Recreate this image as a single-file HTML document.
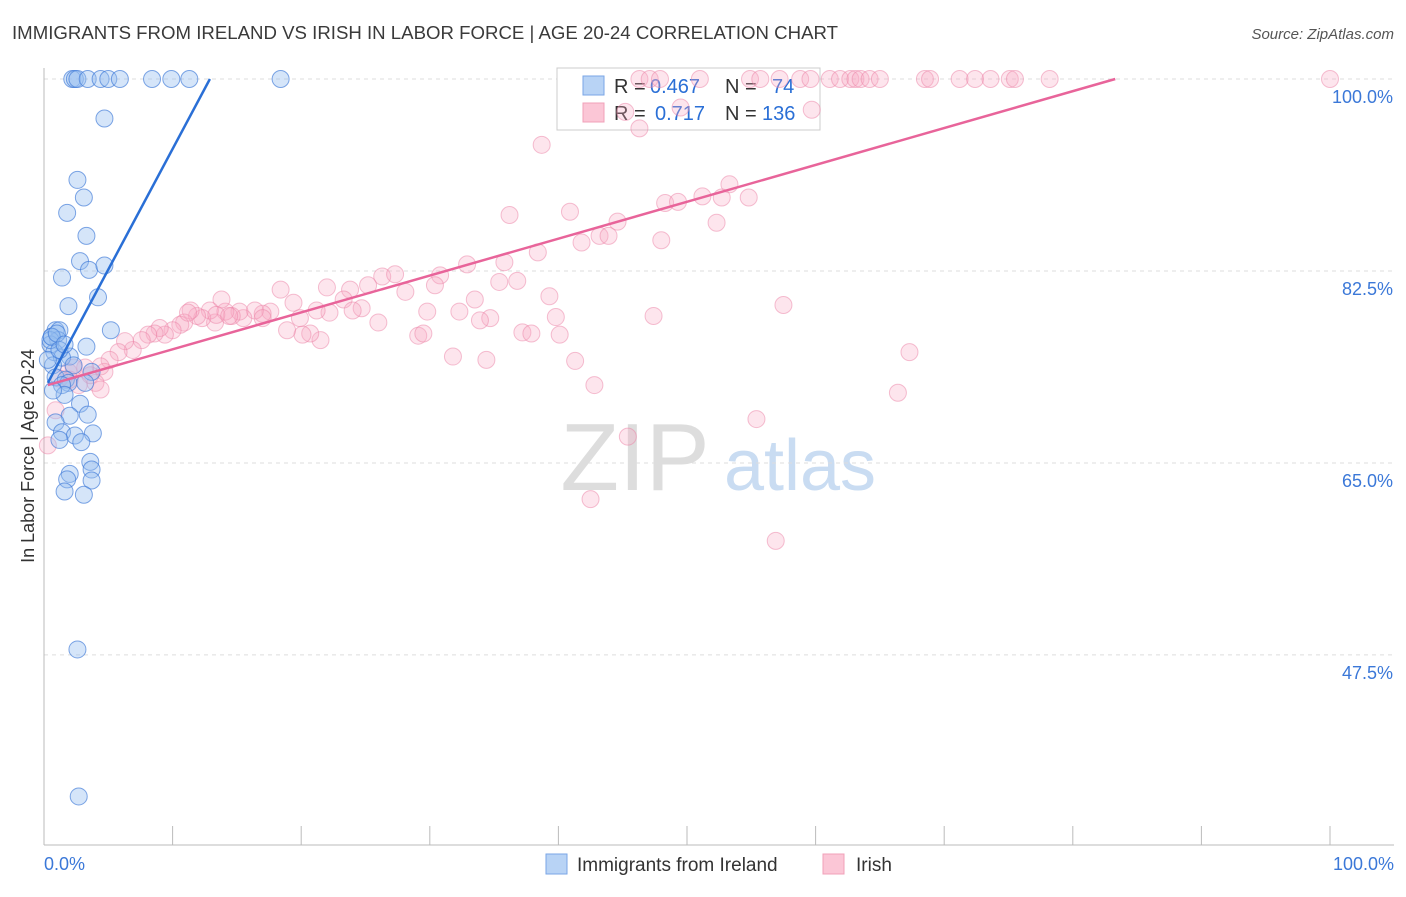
<!DOCTYPE html>
<html><head><meta charset="utf-8">
<style>
body{margin:0;background:#fff;font-family:"Liberation Sans",sans-serif;}
svg text{font-family:"Liberation Sans",sans-serif;}
</style></head>
<body>
<svg id="chart" width="1406" height="892" xmlns="http://www.w3.org/2000/svg">
<text x="12" y="39" font-size="18" fill="#3a3a3a" textLength="826" lengthAdjust="spacingAndGlyphs">IMMIGRANTS FROM IRELAND VS IRISH IN LABOR FORCE | AGE 20-24 CORRELATION CHART</text>
<text x="1394" y="39" font-size="15" fill="#555" font-style="italic" text-anchor="end">Source: ZipAtlas.com</text>
<text x="635" y="490" font-size="96" fill="#ddd" font-family="Liberation Serif" text-anchor="middle">ZIP</text>
<text x="800" y="490" font-size="72" fill="#c9dcf2" text-anchor="middle">atlas</text>
<g id="grid"></g>
<g>
<rect x="557" y="68" width="263" height="62" fill="#fff" stroke="#ccc"/>
<rect x="583" y="76" width="21" height="19" fill="#b8d3f5" stroke="#7aa6e6"/>
<rect x="583" y="103" width="21" height="19" fill="#fbc6d6" stroke="#f0a0b8"/>
<text x="614" y="93" font-size="20" fill="#333">R =</text>
<text x="650" y="93" font-size="20" fill="#2a6fd6">0.467</text>
<text x="725" y="93" font-size="20" fill="#333">N =</text>
<text x="772" y="93" font-size="20" fill="#2a6fd6">74</text>
<text x="614" y="120" font-size="20" fill="#333">R =</text>
<text x="655" y="120" font-size="20" fill="#2a6fd6">0.717</text>
<text x="725" y="120" font-size="20" fill="#333">N =</text>
<text x="762" y="120" font-size="20" fill="#2a6fd6">136</text>
</g>
<g id="marks"></g>
<text transform="translate(34,456) rotate(-90)" font-size="18" fill="#333" text-anchor="middle">In Labor Force | Age 20-24</text>
<g>
<rect x="546" y="854" width="21" height="20" fill="#b8d3f5" stroke="#7aa6e6"/>
<text x="577" y="871" font-size="19" fill="#333">Immigrants from Ireland</text>
<rect x="823" y="854" width="21" height="20" fill="#fbc6d6" stroke="#f0a0b8"/>
<text x="856" y="871" font-size="19" fill="#333">Irish</text>
</g>
</svg>
<script>
const yTicks=[100,82.5,65,47.5];
const yTickLabels=["100.0%","82.5%","65.0%","47.5%"];
const xTickLabels=["0.0%","100.0%"];
const blueX=[2.2,2.4,2.6,3.4,4.4,5.0,5.9,8.4,9.9,11.3,18.4,4.7,2.6,3.1,1.8,3.3,2.8,3.5,4.7,1.4,4.2,1.9,5.2,0.9,1.2,0.6,1.1,0.5,3.3,0.8,2.0,1.4,0.7,2.3,0.9,3.7,1.7,1.9,1.4,3.2,1.6,2.8,2.0,3.4,0.9,1.4,2.4,3.8,2.9,1.2,3.6,3.7,2.0,1.8,3.7,1.6,3.1,2.6,2.7,0.5,0.6,1.0,0.3,0.7,1.2,1.6];
const blueY=[100,100,100,100,100,100,100,100,100,100,100,96.4,90.8,89.2,87.8,85.7,83.4,82.6,83.0,81.9,80.1,79.3,77.1,77.1,77.1,76.5,76.2,75.8,75.6,75.1,74.7,74.6,73.9,73.9,72.8,73.3,72.6,72.3,72.1,72.3,71.2,70.4,69.3,69.4,68.7,67.8,67.5,67.7,66.9,67.1,65.1,64.4,64.0,63.5,63.4,62.4,62.1,48.0,34.6,76.2,76.5,76.8,74.4,71.6,75.3,75.8];
const pinkX=[46.3,47.1,47.9,51.0,54.9,55.7,57.2,58.8,59.6,61.1,61.9,62.7,63.1,63.5,64.2,65.0,68.5,68.9,71.2,72.4,73.6,75.1,75.5,78.2,100,
59.7,45.2,46.3,38.7,49.5,36.2,40.9,44.6,41.8,43.2,43.9,48.0,48.3,49.3,51.2,53.3,52.7,54.8,52.3,30.8,32.9,35.8,36.8,38.4,35.4,33.5,26.3,27.3,25.2,23.8,24.7,28.1,30.4,18.4,19.4,22.0,23.3,24.0,34.7,32.3,33.9,39.8,39.3,47.4,57.5,37.2,37.9,40.1,41.3,42.8,45.4,55.4,67.3,66.4,42.5,56.9,29.1,29.5,31.8,34.4,29.8,26.0,22.2,21.5,20.7,20.1,19.9,18.9,17.6,17.0,16.4,15.5,15.2,14.6,14.1,13.8,13.3,12.9,12.3,11.9,11.4,10.9,10.6,10.0,9.4,9.0,8.6,8.1,7.6,6.9,6.3,5.8,5.1,4.7,4.4,4.0,3.6,3.2,2.7,4.4,1.9,1.2,0.9,0.3,2.0,2.3,11.2,13.4,14.4,17.0,21.2];
const pinkY=[100,100,100,100,100,100,100,100,100,100,100,100,100,100,100,100,100,100,100,100,100,100,100,100,100,
97.2,97.0,95.5,94.0,97.4,87.6,87.9,87.0,85.1,85.7,85.7,85.3,88.7,88.8,89.3,90.4,89.2,89.2,86.9,82.1,83.1,83.3,81.6,84.2,81.5,79.9,82.0,82.2,81.2,80.8,79.1,80.6,81.2,80.8,79.6,81.0,79.9,78.9,78.2,78.8,78.0,78.3,80.2,78.4,79.4,76.9,76.8,76.7,74.3,72.1,67.4,69.0,75.1,71.4,61.7,57.9,76.6,76.8,74.7,74.4,78.8,77.8,78.7,76.2,76.8,76.7,78.2,77.1,78.8,78.6,78.9,78.2,78.8,78.4,78.8,79.9,77.8,78.9,78.2,78.4,78.9,77.8,77.6,77.1,76.7,77.3,76.8,76.7,76.2,75.3,76.1,75.1,74.4,73.3,73.8,72.3,73.0,73.7,72.1,71.7,73.3,72.7,69.8,66.6,72.6,73.7,78.7,78.5,78.4,78.2,78.9];
const blueTrend=[0.3,72.3,12.9,100];
const pinkTrend=[0.3,72.1,83.3,100];
const NS="http://www.w3.org/2000/svg";
const xs=v=>44+v*12.86;
const ys=v=>79+(100-v)*10.97;
function mk(tag,attrs,parent){const e=document.createElementNS(NS,tag);for(const k in attrs)e.setAttribute(k,attrs[k]);parent.appendChild(e);return e;}
const grid=document.getElementById('grid'),marks=document.getElementById('marks');
yTicks.forEach((t,i)=>{
 const l=mk('line',{x1:44,x2:1394,y1:ys(t),y2:ys(t),stroke:'#ddd','stroke-dasharray':'4,4'},grid);
 
 
 const tx=mk('text',{x:1393,y:ys(t)+24,'font-size':18,fill:'#3b78d8','text-anchor':'end'},grid);
 tx.textContent=yTickLabels[i];
 
 
});
const ax=mk('line',{x1:44,x2:44,y1:68,y2:845,stroke:'#bbb'},grid);


const bx=mk('line',{x1:44,x2:1394,y1:845,y2:845,stroke:'#bbb'},grid);


for(let i=1;i<=10;i++){
 const t=mk('line',{x1:xs(i*10),x2:xs(i*10),y1:826,y2:845,stroke:'#bbb'},grid);
 
 
}
[[0,'start',44],[100,'end',1394]].forEach((d,i)=>{
 const t=mk('text',{x:d[2],y:870,'font-size':18,fill:'#3b78d8','text-anchor':d[1]},grid);
 t.textContent=xTickLabels[i];
 
 
});
pinkX.forEach((v,i)=>{
 const c=mk('circle',{cx:xs(v),cy:ys(pinkY[i]),r:8.5,fill:'rgba(248,170,195,0.3)',stroke:'rgba(236,130,165,0.5)','stroke-width':1},marks);
 
 
});
blueX.forEach((v,i)=>{
 const c=mk('circle',{cx:xs(v),cy:ys(blueY[i]),r:8.5,fill:'rgba(150,190,240,0.4)',stroke:'rgba(60,120,215,0.65)','stroke-width':1},marks);
 
 
});
const pl=mk('line',{x1:xs(pinkTrend[0]),y1:ys(pinkTrend[1]),x2:xs(pinkTrend[2]),y2:ys(pinkTrend[3]),stroke:'#e8649a','stroke-width':2.5},marks);


const bl=mk('line',{x1:xs(blueTrend[0]),y1:ys(blueTrend[1]),x2:xs(blueTrend[2]),y2:ys(blueTrend[3]),stroke:'#2a6fd6','stroke-width':2.5},marks);


</script>
</body></html>
